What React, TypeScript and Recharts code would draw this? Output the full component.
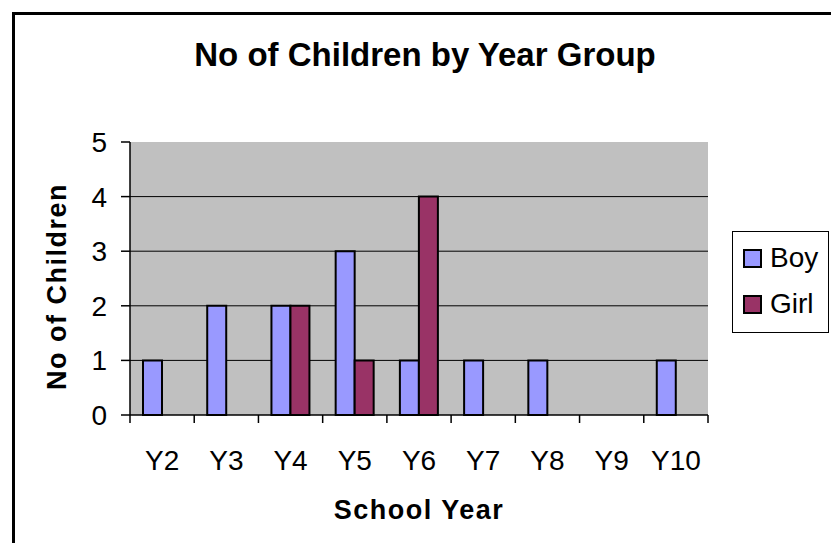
import { BarChart, Bar, XAxis, YAxis, CartesianGrid, Legend } from 'recharts'

// ─── Data ─────────────────────────────────────────────────────────────────────

const categories = ['Y2', 'Y3', 'Y4', 'Y5', 'Y6', 'Y7', 'Y8', 'Y9', 'Y10']
const boys       = [1, 2, 2, 3, 1, 1, 1, 0, 1]
const girls      = [0, 0, 2, 1, 4, 0, 0, 0, 0]
const yTicks     = [0, 1, 2, 3, 4, 5]
const gridValues = [1, 2, 3, 4]

const data = categories.map((year, i) => ({ year, Boy: boys[i], Girl: girls[i] }))

// ─── Layout ───────────────────────────────────────────────────────────────────

const W = 839
const H = 551
const PLOT_LEFT = 130
const PLOT_RIGHT = 708
const PLOT_TOP = 142
const PLOT_BOTTOM = 415
const Y_AXIS_W = 120
const X_AXIS_H = 110
const X_TICK_SIZE = 8
const X_TICK_MARGIN = 27
const HALF_BAND = (PLOT_RIGHT - PLOT_LEFT) / categories.length / 2

const FONT = '"Liberation Sans", Arial, Helvetica, sans-serif'
const TICK_FONT = 28

// ─── X ticks: label centred, tick mark on the category boundary (Excel style) ─

function XTick({ x, y, payload, index }: any) {
  const top = y - X_TICK_MARGIN - X_TICK_SIZE
  const bottom = y - X_TICK_MARGIN
  const isLast = index === categories.length - 1
  return (
    <g>
      <line x1={x - HALF_BAND} x2={x - HALF_BAND} y1={top} y2={bottom} stroke="#000" strokeWidth={1.5} />
      {isLast && (
        <line x1={x + HALF_BAND} x2={x + HALF_BAND} y1={top} y2={bottom} stroke="#000" strokeWidth={1.5} />
      )}
      <text x={x} y={y} dy="0.71em" textAnchor="middle" fontSize={TICK_FONT} fontFamily={FONT} fill="#000">
        {payload.value}
      </text>
    </g>
  )
}

// ─── Axis titles ──────────────────────────────────────────────────────────────

function YTitle({ viewBox }: any) {
  const cx = viewBox.x + viewBox.width - 73
  const cy = viewBox.y + viewBox.height / 2 + 8
  return (
    <text
      x={cx}
      y={cy}
      transform={`rotate(-90 ${cx} ${cy})`}
      textAnchor="middle"
      dominantBaseline="central"
      fontSize={27}
      fontWeight="bold"
      fontFamily={FONT}
      fill="#000"
      style={{ letterSpacing: 1.5 }}
    >
      No of Children
    </text>
  )
}

function XTitle({ viewBox }: any) {
  const cx = viewBox.x + viewBox.width / 2
  const by = viewBox.y + 104
  return (
    <text
      x={cx}
      y={by}
      textAnchor="middle"
      fontSize={27}
      fontWeight="bold"
      fontFamily={FONT}
      fill="#000"
      style={{ letterSpacing: 1.5 }}
    >
      School Year
    </text>
  )
}

// ─── Legend ───────────────────────────────────────────────────────────────────

function LegendBox({ payload }: any) {
  return (
    <div
      style={{
        width: 95,
        height: 97,
        border: '1px solid #000',
        background: '#fff',
        paddingTop: 3,
        boxSizing: 'content-box',
        fontFamily: FONT,
        fontSize: TICK_FONT,
        color: '#000',
      }}
    >
      {(payload ?? []).map((entry: any) => (
        <div key={entry.value} style={{ display: 'flex', alignItems: 'center', height: 46, paddingLeft: 10 }}>
          <span
            style={{
              display: 'inline-block',
              width: 19,
              height: 19,
              boxSizing: 'border-box',
              border: '2px solid #000',
              background: entry.color,
              marginRight: 8,
            }}
          />
          <span style={{ lineHeight: '28px' }}>{entry.value}</span>
        </div>
      ))}
    </div>
  )
}

// ─── Component ────────────────────────────────────────────────────────────────

export default function App() {
  return (
    <div style={{ position: 'relative', width: W, height: H, margin: -8, overflow: 'hidden', background: '#fff' }}>
      {/* outer chart border */}
      <div
        style={{
          position: 'absolute',
          left: 12,
          top: 12,
          width: 826,
          height: 560,
          border: '3px solid #000',
          boxSizing: 'border-box',
        }}
      />

      <div
        style={{
          position: 'absolute',
          left: 12,
          top: 38,
          width: 826,
          textAlign: 'center',
          fontFamily: FONT,
          fontWeight: 'bold',
          fontSize: 33,
          lineHeight: '33px',
          color: '#000',
        }}
      >
        No of Children by Year Group
      </div>

      <div style={{ position: 'absolute', left: 0, top: 0 }}>
        <BarChart
          width={W}
          height={H}
          data={data}
          margin={{
            top: PLOT_TOP,
            right: W - PLOT_RIGHT,
            bottom: H - PLOT_BOTTOM - X_AXIS_H,
            left: PLOT_LEFT - Y_AXIS_W,
          }}
          barCategoryGap={13}
          barGap={0}
        >
          <CartesianGrid
            vertical={false}
            horizontalValues={gridValues}
            stroke="#000"
            strokeWidth={1}
            fill="#C0C0C0"
            fillOpacity={1}
          />

          <XAxis
            dataKey="year"
            height={X_AXIS_H}
            tickLine={false}
            tickSize={X_TICK_SIZE}
            tickMargin={X_TICK_MARGIN}
            tick={<XTick />}
            interval={0}
            axisLine={{ stroke: '#000', strokeWidth: 1.5 }}
            label={{ content: <XTitle /> } as any}
          />
          <XAxis
            xAxisId="top"
            dataKey="year"
            orientation="top"
            height={0}
            tick={false}
            tickLine={false}
            axisLine={{ stroke: '#808080', strokeWidth: 1.5 }}
          />

          <YAxis
            domain={[0, 5]}
            ticks={yTicks}
            width={Y_AXIS_W}
            tickSize={9}
            tickMargin={14}
            tick={{ fontSize: TICK_FONT, fill: '#000', fontFamily: FONT }}
            tickLine={{ stroke: '#000', strokeWidth: 1.5 }}
            axisLine={{ stroke: '#000', strokeWidth: 1.5 }}
            label={{ content: <YTitle /> } as any}
          />
          <YAxis
            yAxisId="right"
            orientation="right"
            domain={[0, 5]}
            width={0}
            tick={false}
            tickLine={false}
            axisLine={{ stroke: '#808080', strokeWidth: 1.5 }}
          />

          <Legend
            layout="vertical"
            align="center"
            verticalAlign="middle"
            content={<LegendBox />}
            wrapperStyle={{ left: 732, top: 231, width: 'auto', height: 'auto' }}
          />

          <Bar dataKey="Boy" name="Boy" fill="#9999FF" stroke="#000" strokeWidth={2} isAnimationActive={false} />
          <Bar dataKey="Girl" name="Girl" fill="#993366" stroke="#000" strokeWidth={2} isAnimationActive={false} />
        </BarChart>
      </div>
    </div>
  )
}
